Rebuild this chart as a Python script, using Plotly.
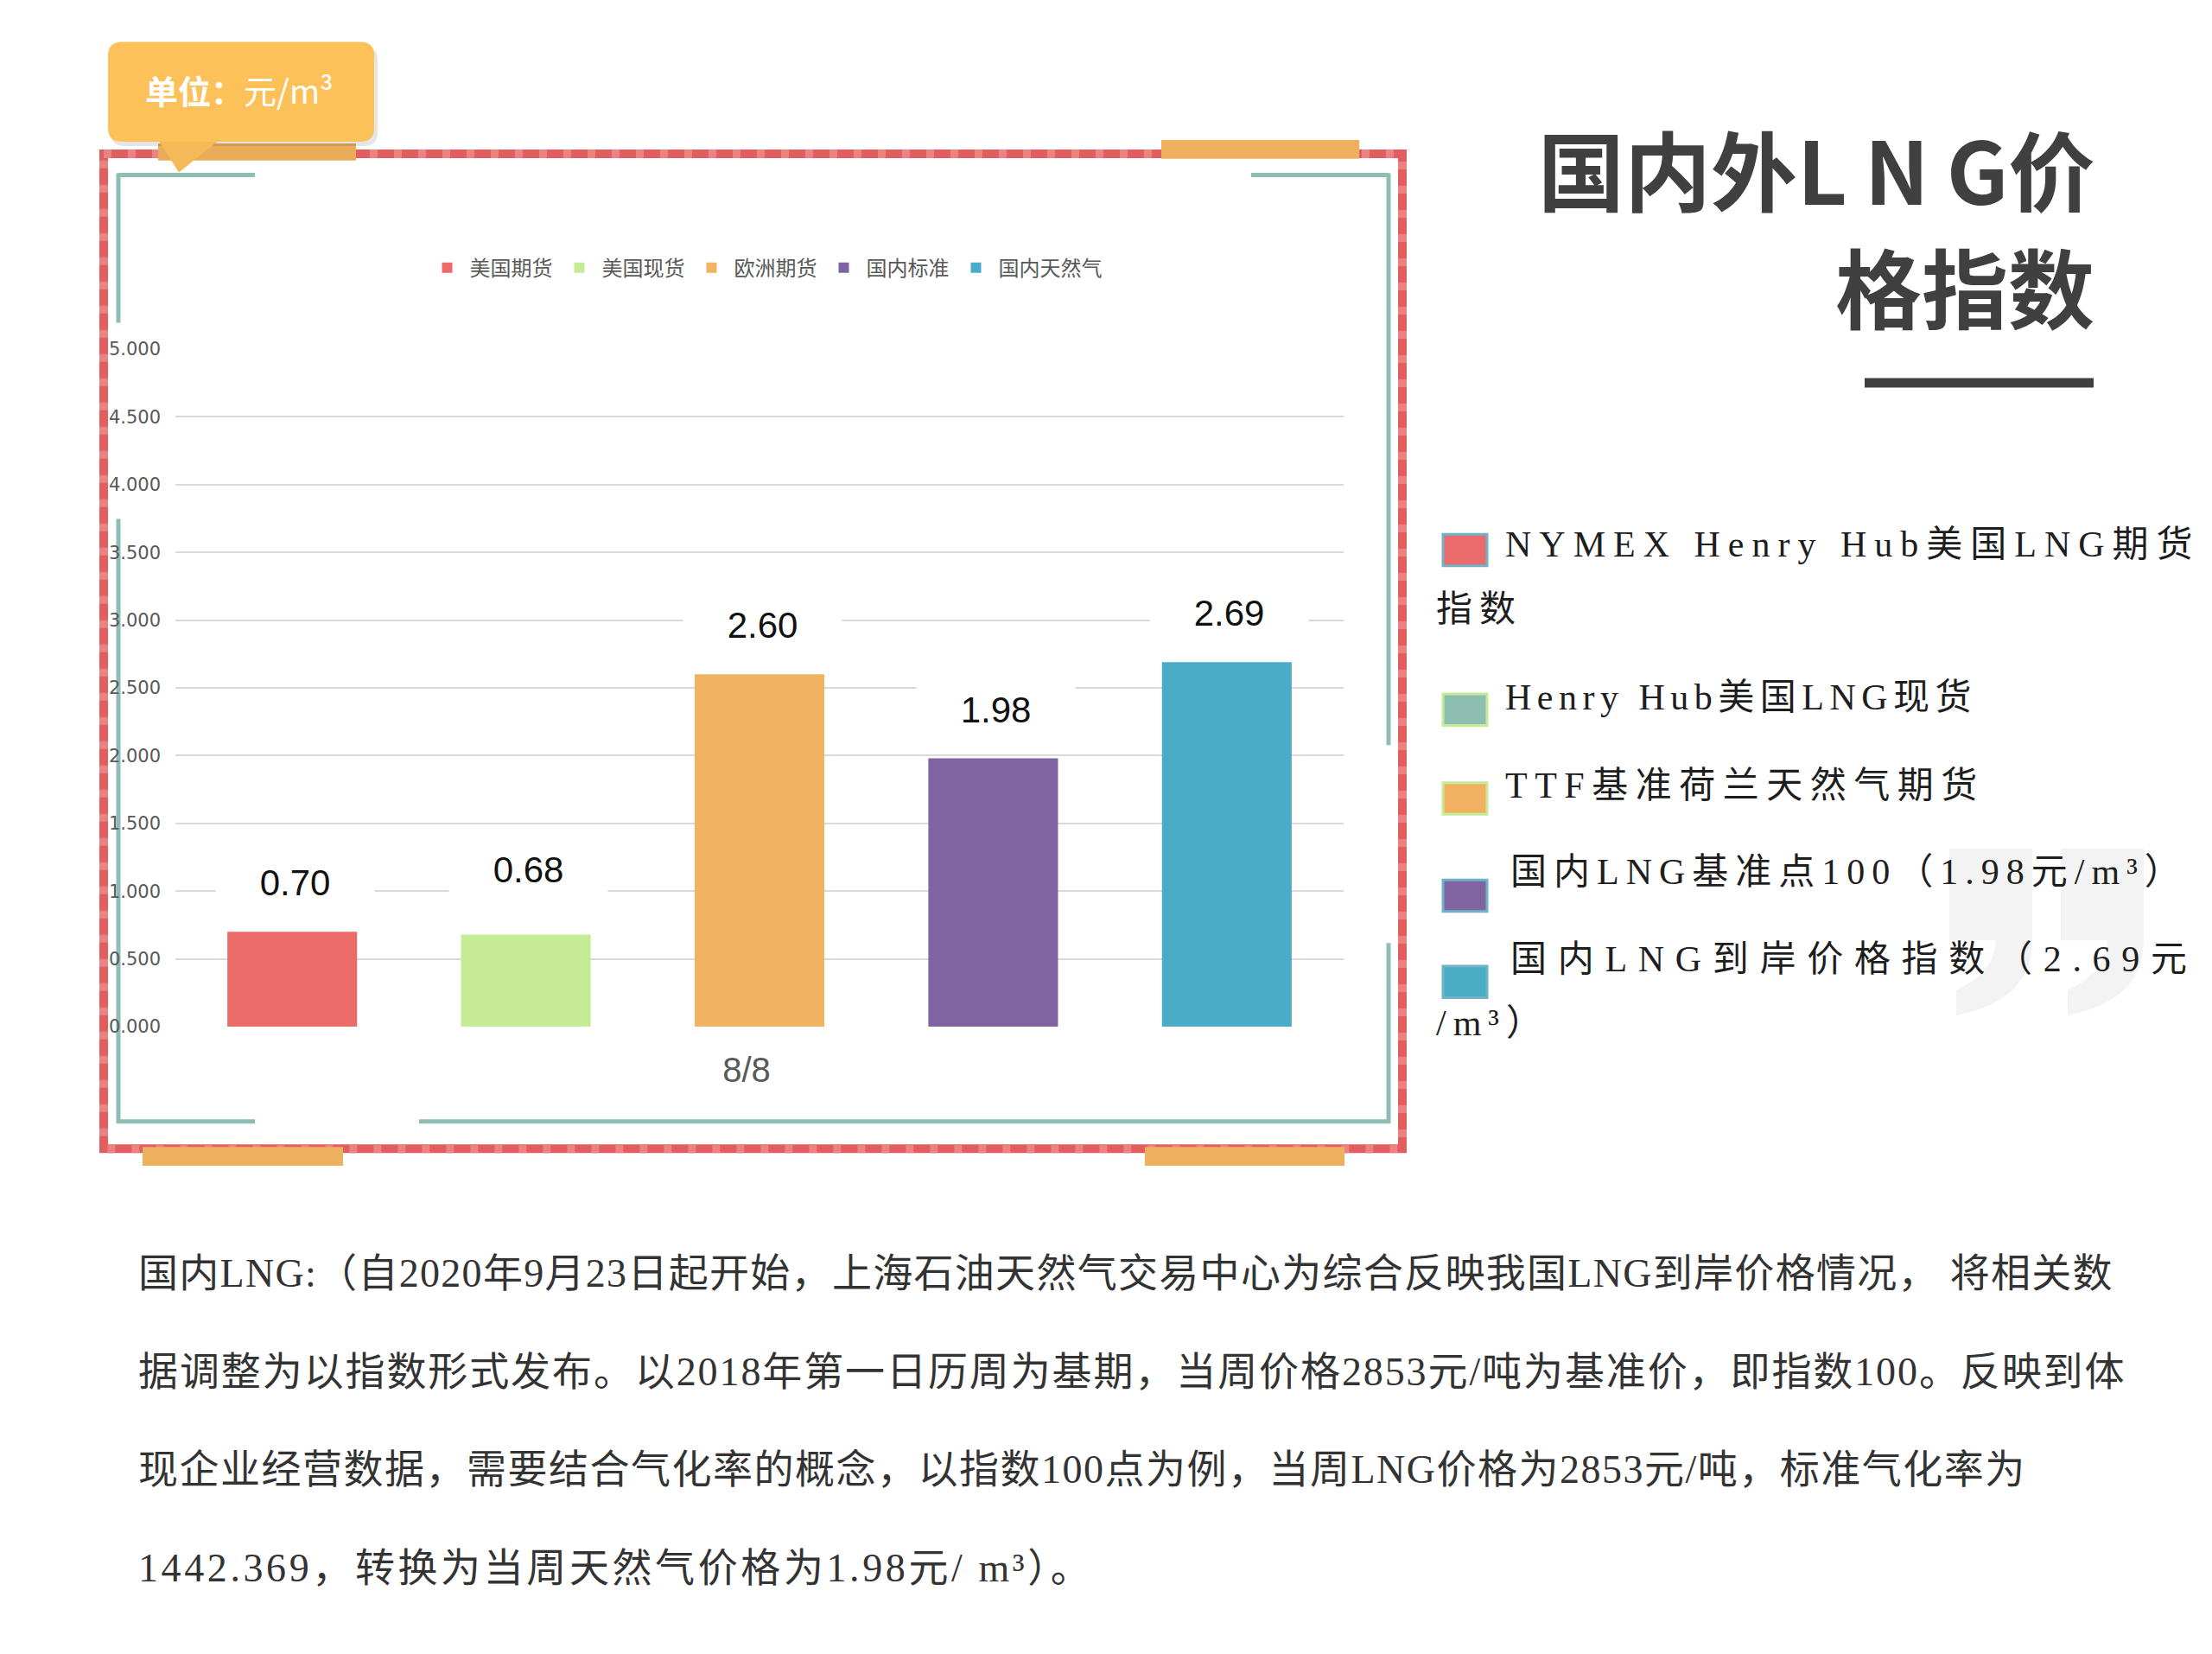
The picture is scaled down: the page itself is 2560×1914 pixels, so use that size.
import plotly.graph_objects as go

# ---------------- data ----------------
category = ["8/8"]
series_names = ["美国期货", "美国现货", "欧洲期货", "国内标准", "国内天然气"]
series_values = [0.70, 0.68, 2.60, 1.98, 2.69]
series_colors = ["#EB6B69", "#C6EB96", "#F0B361", "#8064A2", "#4AACC6"]

title_lines = ["国内外L\u2009N\u2009G价", "格指数"]
unit_text = "<b>单位：</b>元/m³"
side_legend_texts = [
    "NYMEX Henry Hub美国LNG期货",
    "指数",
    "Henry Hub美国LNG现货",
    "TTF基准荷兰天然气期货",
    "国内LNG基准点100（1.98元/m³）",
    "国内LNG到岸价格指数（2.69元",
    "/m³）",
]
paragraph_lines = [
    "国内LNG:（自2020年9月23日起开始，上海石油天然气交易中心为综合反映我国LNG到岸价格情况， 将相关数",
    "据调整为以指数形式发布。以2018年第一日历周为基期，当周价格2853元/吨为基准价，即指数100。反映到体",
    "现企业经营数据，需要结合气化率的概念，以指数100点为例，当周LNG价格为2853元/吨，标准气化率为",
    "1442.369，转换为当周天然气价格为1.98元/ m³）。",
]

# ---------------- geometry helpers ----------------
W, H = 2560, 1914


def X(p):
    return p / W


def Y(p):
    return 1 - p / H


PLOT_L, PLOT_R, PLOT_T, PLOT_B = 203, 1555, 397, 1191
slot_px = (PLOT_R - PLOT_L) / len(series_names)
label_nudge = [0, 18, 0, 0, 0]   # extra lift of individual value labels (px)

CJK = "Noto Sans CJK SC"
SERIF = "Liberation Serif, Noto Sans CJK SC"

fig = go.Figure()
for name, val, col in zip(series_names, series_values, series_colors):
    fig.add_trace(go.Bar(x=category, y=[val], name=name, marker=dict(color=col, line=dict(width=0)),
                         hoverinfo="skip"))

shapes = []


def rect(x0, y0, x1, y1, fill, line_color=None, lw=0, layer="below", dash=None):
    d = dict(type="rect", xref="paper", yref="paper", x0=X(x0), x1=X(x1), y0=Y(y0), y1=Y(y1),
             fillcolor=fill, layer=layer, line=dict(width=lw, color=line_color or "rgba(0,0,0,0)"))
    if dash:
        d["line"]["dash"] = dash
    shapes.append(d)


def line(x0, y0, x1, y1, color, lw, layer="below", dash=None):
    d = dict(type="line", xref="paper", yref="paper", x0=X(x0), x1=X(x1), y0=Y(y0), y1=Y(y1),
             layer=layer, line=dict(width=lw, color=color))
    if dash:
        d["line"]["dash"] = dash
    shapes.append(d)


def path(points_str, fill, layer="below", lc="rgba(0,0,0,0)", lw=0):
    shapes.append(dict(type="path", xref="paper", yref="paper", path=points_str, fillcolor=fill,
                       layer=layer, line=dict(width=lw, color=lc)))


def P(x, y):
    return f"{X(x):.5f},{Y(y):.5f}"


# red striped outer frame
rect(120, 168, 1623, 1334, "rgba(0,0,0,0)", "#E25E5E", 10)
rect(120, 168, 1623, 1334, "rgba(0,0,0,0)", "#EB8282", 10, dash="9px,19px")

# teal inner frame segments
TEAL = "#8DBDB3"
line(137, 193, 295, 193, TEAL, 5)
line(1448, 193, 1607, 193, TEAL, 5)
line(137, 191, 137, 366, TEAL, 5)
line(137, 596, 137, 1304, TEAL, 5)
line(1607, 191, 1607, 861, TEAL, 5)
line(1607, 1093, 1607, 1304, TEAL, 5)
line(135, 1302, 295, 1302, TEAL, 5)
line(485, 1302, 1609, 1302, TEAL, 5)

# orange tabs
rect(1344, 152, 1573, 174, "#F0AF5E")
rect(165, 1332, 397, 1354, "#EDB05E")
rect(1325, 1332, 1556, 1354, "#EDB05E")
rect(183, 156, 412, 176, "#E9AC5B")

# unit badge (shadow, pointer, rounded box)
r = 16


def rounded(x0, y0, x1, y1, rr):
    return ("M " + P(x0 + rr, y0) + " L " + P(x1 - rr, y0) + " Q " + P(x1, y0) + " " + P(x1, y0 + rr) +
            " L " + P(x1, y1 - rr) + " Q " + P(x1, y1) + " " + P(x1 - rr, y1) +
            " L " + P(x0 + rr, y1) + " Q " + P(x0, y1) + " " + P(x0, y1 - rr) +
            " L " + P(x0, y0 + rr) + " Q " + P(x0, y0) + " " + P(x0 + rr, y0) + " Z")


path(rounded(128, 42, 437, 159, r), "rgba(0,0,0,0.10)")
path("M " + P(183, 152) + " L " + P(207, 190) + " L " + P(254, 152) + " Z", "#F5B957")
path(rounded(125, 37, 433, 154, r), "#FDC15A")

# title underline
rect(2158, 431, 2423, 442, "#404040")

# faint watermark quote marks on the right
for qx in (2256, 2385):
    path("M " + P(qx, 982) + " L " + P(qx + 96, 982) + " L " + P(qx + 96, 1090) +
         " Q " + P(qx + 96, 1160) + " " + P(qx + 8, 1178) + " L " + P(qx + 8, 1148) +
         " Q " + P(qx + 52, 1128) + " " + P(qx + 54, 1090) + " L " + P(qx, 1090) + " Z", "#F3F3F3")

# side legend squares
side_sq = [
    (614, "#E96B6B", "#70B3C6"),
    (801, "#8DBEB1", "#C6EB96"),
    (905, "#F0B262", "#C6EB96"),
    (1019, "#8064A2", "#70B3C6"),
    (1120, "#4BACC6", "#70B3C6"),
]
for top, fill, border in side_sq:
    rect(1670, top, 1721, top + 37, fill, border, 3)

annotations = []

# bar value labels with white boxes
for i, v in enumerate(series_values):
    annotations.append(dict(xref="x", yref="y", x=category[0], y=v, text=f"{v:.2f}", showarrow=False,
                            xshift=(i - (len(series_values) - 1) / 2) * slot_px + 3, yanchor="bottom",
                            yshift=30 + label_nudge[i],
                            bgcolor="white", width=181, height=50, valign="middle",
                            font=dict(family="Liberation Sans, Arial", size=42, color="#111111")))

# unit badge text
annotations.append(dict(xref="paper", yref="paper", x=X(277), y=Y(93), text=unit_text, showarrow=False,
                        xanchor="center", yanchor="middle", font=dict(family=CJK, size=38, color="white")))

# title
for txt, yc in zip(title_lines, (184, 322)):
    annotations.append(dict(xref="paper", yref="paper", x=X(2426), y=Y(yc), text=txt, showarrow=False,
                            xanchor="right", yanchor="middle",
                            font=dict(family=CJK, size=100, color="#404040", weight=700)))

# side legend text
side_pos = [(1740, 626, 9), (1660, 702, 8), (1740, 805, 6.5), (1740, 908, 8.5), (1746, 1010, 8),
            (1746, 1112, 12.7), (1660, 1187, 8)]
for txt, (sx, sy, ls) in zip(side_legend_texts, side_pos):
    annotations.append(dict(xref="paper", yref="paper", x=X(sx), y=Y(sy), showarrow=False,
                            text=f'<span style="letter-spacing:{ls}px">{txt}</span>',
                            xanchor="left", yanchor="middle",
                            font=dict(family=SERIF, size=42, color="#1E1E1E")))

# paragraph
para_ls = [1.3, 1.9, 1.5, 3.6]
for txt, yc, ls in zip(paragraph_lines, (1480, 1595, 1710, 1825), para_ls):
    annotations.append(dict(xref="paper", yref="paper", x=X(158), y=Y(yc), showarrow=False,
                            text=f'<span style="letter-spacing:{ls}px">{txt}</span>',
                            xanchor="left", yanchor="middle",
                            font=dict(family=SERIF, size=46, color="#333333")))

fig.update_layout(
    width=W, height=H,
    margin=dict(l=0, r=0, t=0, b=0),
    paper_bgcolor="white", plot_bgcolor="rgba(0,0,0,0)",
    barmode="group", bargap=0, bargroupgap=0.445,
    showlegend=True,
    legend=dict(orientation="h", x=X(886), xanchor="center", y=Y(302), yanchor="middle",
                font=dict(family=CJK, size=24, color="#595959"), bgcolor="rgba(0,0,0,0)",
                traceorder="normal", itemwidth=42),
    xaxis=dict(domain=[X(PLOT_L), X(PLOT_R)], type="category", showgrid=False, showline=False,
               zeroline=False, ticks="", ticklabelstandoff=23, ticklabelshift=-15,
               tickfont=dict(family="Liberation Sans, Arial", size=40, color="#595959")),
    yaxis=dict(domain=[Y(PLOT_B), Y(PLOT_T)], range=[0, 5], dtick=0.5, tickformat=".3f",
               showgrid=True, gridcolor="#D9D9D9", gridwidth=2, zeroline=False, showline=False,
               ticks="", ticklabelstandoff=16,
               tickfont=dict(family="DejaVu Sans", size=21, color="#595959")),
    shapes=shapes,
    annotations=annotations,
    font=dict(family=CJK),
)

fig.write_html("out.html", config={"displayModeBar": False},
               post_script="document.body.style.margin='0';")
